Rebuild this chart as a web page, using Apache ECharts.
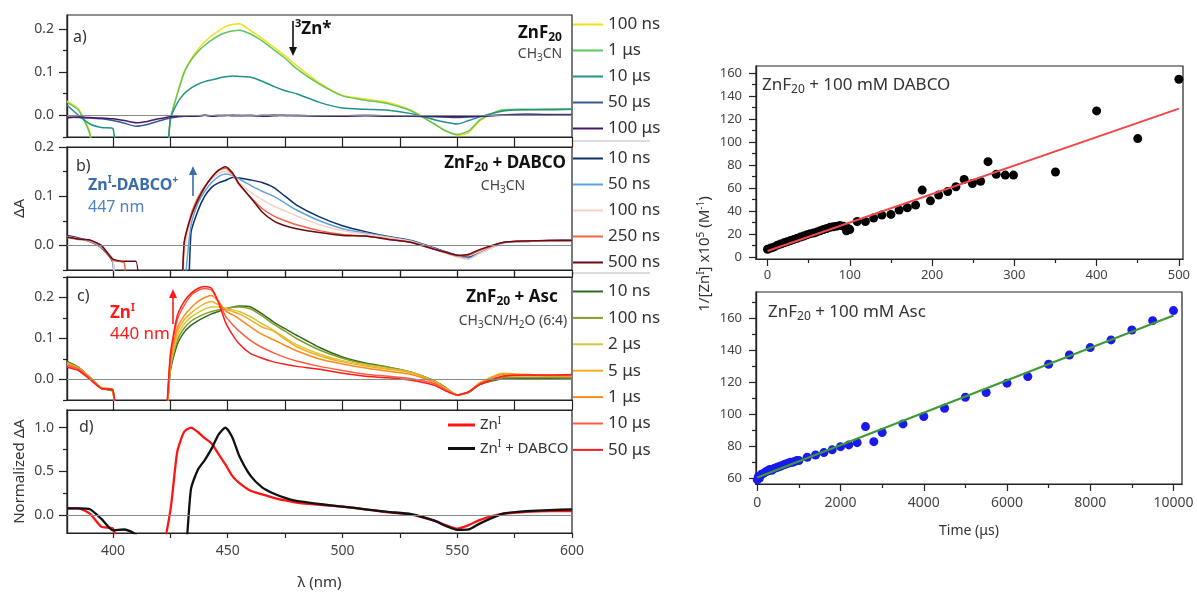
<!DOCTYPE html>
<html>
<head>
<meta charset="utf-8">
<script src="https://cdn.jsdelivr.net/npm/echarts@6/dist/echarts.min.js"></script>
<style>
  html, body { margin: 0; background: #fff; }
  #chart { width: 1197px; height: 593px; }
</style>
</head>
<body>
<div id="chart"></div>
<script>
// longueurs d'onde communes (nm) pour les spectres a) à d)
const wl = [380,385,390,395,400,405,410,415,420,425,428,431,434,437,440,443,446,449,452,455,460,465,470,475,480,490,500,510,520,530,540,545,550,555,560,570,580,590,600];

// a) ZnF20 / CH3CN
const a100ns = [0.033,0.015,-0.04,-0.3,-0.3,-0.3,-0.3,-0.3,-0.3,-0.01,0.05,0.1,0.13,0.152,0.17,0.184,0.195,0.205,0.21,0.212,0.196,0.178,0.158,0.138,0.115,0.075,0.046,0.038,0.03,0.012,-0.02,-0.035,-0.046,-0.04,-0.012,0.013,0.013,0.014,0.014];
const a1us = [0.03,0.012,-0.045,-0.3,-0.3,-0.3,-0.3,-0.3,-0.3,-0.01,0.048,0.098,0.127,0.147,0.162,0.174,0.184,0.191,0.195,0.197,0.188,0.172,0.152,0.132,0.108,0.072,0.045,0.035,0.027,0.01,-0.02,-0.036,-0.044,-0.036,-0.01,0.013,0.014,0.015,0.015];
const a10us = [0.024,0.0,-0.02,-0.028,-0.03,-0.3,-0.3,-0.3,-0.3,-0.01,0.028,0.05,0.063,0.072,0.078,0.082,0.086,0.089,0.091,0.09,0.088,0.079,0.067,0.057,0.05,0.03,0.017,0.014,0.012,0.004,-0.01,-0.016,-0.02,-0.012,-0.003,0.01,0.013,0.013,0.014];
const a50us = [-0.004,-0.005,-0.006,-0.008,-0.012,-0.018,-0.025,-0.021,-0.013,-0.006,-0.004,-0.002,-0.001,-0.002,0.0,-0.001,0.0,-0.001,0.001,0.0,-0.001,0.0,0.001,-0.001,0.0,-0.002,-0.001,0.0,-0.001,-0.002,-0.003,-0.004,-0.005,-0.004,-0.002,0.001,0.003,0.002,0.002];
const a100us = [-0.006,-0.004,-0.005,-0.006,-0.008,-0.012,-0.017,-0.014,-0.008,-0.003,-0.002,-0.001,-0.002,-0.001,0.0,-0.002,-0.001,0.0,-0.001,-0.001,0.0,-0.002,-0.001,0.0,-0.001,-0.001,-0.002,-0.001,-0.002,-0.001,-0.002,-0.003,-0.003,-0.002,-0.002,0.0,0.0,0.001,0.0];

// b) ZnF20 + DABCO
const b10ns = [0.02,0.015,0.008,-0.005,-0.035,-0.3,-0.3,-0.3,-0.3,-0.3,-0.3,-0.3,0.025,0.07,0.1,0.118,0.127,0.132,0.138,0.137,0.133,0.128,0.118,0.1,0.082,0.058,0.04,0.028,0.018,0.01,-0.005,-0.013,-0.02,-0.024,-0.015,0.006,0.008,0.01,0.011];
const b50ns = [0.018,0.014,0.008,-0.004,-0.032,-0.3,-0.3,-0.3,-0.3,-0.3,-0.3,-0.1,0.04,0.085,0.11,0.128,0.14,0.145,0.142,0.135,0.122,0.11,0.1,0.086,0.072,0.05,0.034,0.025,0.017,0.009,-0.006,-0.014,-0.022,-0.026,-0.015,0.005,0.008,0.009,0.01];
const b100ns = [0.018,0.013,0.009,-0.003,-0.03,-0.3,-0.3,-0.3,-0.3,-0.3,-0.3,-0.02,0.055,0.095,0.12,0.135,0.146,0.15,0.143,0.128,0.108,0.093,0.08,0.07,0.06,0.042,0.03,0.023,0.016,0.008,-0.007,-0.015,-0.024,-0.028,-0.016,0.005,0.008,0.009,0.01];
const b250ns = [0.016,0.012,0.01,-0.002,-0.03,-0.036,-0.3,-0.3,-0.3,-0.3,-0.3,0.0,0.062,0.097,0.12,0.138,0.152,0.157,0.145,0.123,0.098,0.075,0.06,0.05,0.042,0.03,0.022,0.019,0.013,0.006,-0.008,-0.015,-0.021,-0.02,-0.01,0.006,0.009,0.01,0.01];
const b500ns = [0.017,0.013,0.011,0.0,-0.028,-0.032,-0.032,-0.3,-0.3,-0.3,-0.3,0.005,0.058,0.092,0.118,0.138,0.153,0.16,0.148,0.125,0.097,0.068,0.05,0.04,0.034,0.026,0.02,0.019,0.012,0.006,-0.008,-0.014,-0.02,-0.018,-0.008,0.006,0.009,0.01,0.01];

// c) ZnF20 + Asc
const c10ns = [0.044,0.03,0.005,-0.022,-0.03,-0.3,-0.3,-0.3,-0.3,0.02,0.085,0.115,0.132,0.143,0.152,0.16,0.166,0.172,0.176,0.179,0.177,0.16,0.14,0.124,0.108,0.078,0.055,0.04,0.03,0.018,-0.003,-0.02,-0.038,-0.032,-0.012,0.002,0.003,0.003,0.002];
const c100ns = [0.042,0.029,0.006,-0.021,-0.028,-0.3,-0.3,-0.3,-0.3,0.025,0.095,0.125,0.142,0.152,0.16,0.166,0.17,0.173,0.176,0.177,0.172,0.155,0.135,0.118,0.1,0.072,0.052,0.038,0.03,0.018,-0.004,-0.021,-0.037,-0.031,-0.011,0.004,0.005,0.005,0.004];
const c2us = [0.04,0.028,0.006,-0.02,-0.026,-0.3,-0.3,-0.3,-0.3,0.03,0.105,0.135,0.152,0.163,0.172,0.177,0.177,0.173,0.17,0.166,0.153,0.136,0.12,0.102,0.085,0.062,0.046,0.036,0.027,0.017,-0.005,-0.022,-0.038,-0.03,-0.01,0.008,0.009,0.008,0.008];
const c5us = [0.04,0.028,0.005,-0.02,-0.025,-0.3,-0.3,-0.3,-0.3,0.035,0.115,0.145,0.162,0.175,0.185,0.19,0.182,0.172,0.166,0.16,0.145,0.128,0.118,0.098,0.08,0.058,0.043,0.033,0.025,0.016,-0.005,-0.022,-0.038,-0.03,-0.008,0.015,0.012,0.01,0.01];
const c1us = [0.038,0.027,0.004,-0.021,-0.025,-0.3,-0.3,-0.3,-0.3,0.04,0.125,0.155,0.175,0.19,0.2,0.205,0.19,0.168,0.158,0.148,0.128,0.11,0.097,0.083,0.07,0.05,0.038,0.028,0.02,0.012,-0.007,-0.024,-0.038,-0.03,-0.008,0.012,0.012,0.01,0.01];
const c10us = [0.034,0.025,0.003,-0.022,-0.026,-0.3,-0.3,-0.3,-0.3,0.05,0.145,0.18,0.205,0.217,0.222,0.218,0.19,0.155,0.135,0.118,0.095,0.078,0.065,0.054,0.045,0.032,0.022,0.013,0.008,0.002,-0.01,-0.026,-0.038,-0.03,-0.01,0.008,0.01,0.01,0.01];
const c50us = [0.03,0.022,0.0,-0.022,-0.025,-0.3,-0.3,-0.3,-0.3,0.06,0.155,0.19,0.21,0.222,0.227,0.222,0.188,0.14,0.11,0.087,0.063,0.052,0.043,0.037,0.032,0.025,0.015,0.008,0.004,-0.002,-0.014,-0.028,-0.038,-0.03,-0.012,0.008,0.011,0.011,0.012];

// d) spectres normalisés
const dZn = [0.08,0.08,0.02,-0.13,-0.15,-0.5,-0.5,-0.5,-0.5,0.05,0.72,0.95,1.0,0.95,0.88,0.82,0.7,0.58,0.45,0.37,0.28,0.24,0.2,0.17,0.145,0.12,0.1,0.07,0.035,0.01,-0.06,-0.11,-0.15,-0.11,-0.05,0.02,0.04,0.05,0.05];
const dZnDabco = [0.08,0.08,0.07,-0.04,-0.17,-0.16,-0.22,-0.5,-0.5,-0.5,-0.5,-0.5,0.3,0.52,0.63,0.76,0.92,1.0,0.89,0.68,0.45,0.32,0.25,0.2,0.165,0.13,0.1,0.07,0.04,0.015,-0.06,-0.12,-0.165,-0.16,-0.09,0.02,0.05,0.06,0.07];

// cinétiques 1/[Zn(I)]
const dabcoT = [0,4,8,12,16,20,24,28,32,36,40,44,48,52,56,60,64,68,72,76,80,84,88,92,96,98,100,109,119,129,139,150,160,170,180,188,198,208,219,229,239,249,259,268,278,289,299,350,400,450,500];
const dabcoY = [7,8,9,10.5,11.5,12.5,13.5,14.5,15.5,16.5,17.5,18.5,19.5,20.5,21,22,23,24,25,26,26.5,27,27.5,27,23,25,24,31,31,34,36.6,37.2,41,43,45.3,58.3,49,54,57,61.2,67.6,64,66,83,72,71.3,71.3,74,127,103,154.5];
const dabcoFitT = [0, 500];
const dabcoFitY = [5.5, 129];
const ascT = [0,25,50,100,150,200,250,300,350,400,450,500,550,600,650,700,750,800,850,900,950,1000,1200,1400,1600,1800,2000,2200,2400,2600,2800,3000,3500,4000,4500,5000,5500,6000,6500,7000,7500,8000,8500,9000,9500,10000];
const ascY = [59,61,60,62.5,63,64,64.5,65.5,65,66,66.5,67,67.5,68,68.5,69,69.5,70,70,70.5,71,71,73.1,74.5,76,77.7,79.7,80.8,82.2,92.2,82.8,88.5,93.9,98.5,103.7,110.5,113.5,119.3,123.4,131.1,136.9,141.5,146.3,152.5,158.3,164.6];
const ascFitT = [0, 10000];
const ascFitY = [60.5, 161.5];

// graduations
const lamTicks = [400,425,450,475,500,525,550,575,600];
const lamLabels = [400,450,500,550,600];
const dAMajor = [0, 0.1, 0.2];
const dAMinor = [-0.05, 0.05, 0.15, 0.25];
const normMajor = [0, 0.5, 1.0];
const normMinor = [0.25, 0.75];

const FONT = 'Noto Sans';
const chart = echarts.init(document.getElementById('chart'));

function zip(xs, ys) { return xs.map((x, i) => [x, ys[i]]); }

const grids = [
  {left: 67, top: 15, width: 505, height: 122},
  {left: 67, top: 147, width: 505, height: 123},
  {left: 67, top: 277, width: 505, height: 123},
  {left: 67, top: 410, width: 505, height: 123},
  {left: 756, top: 66, width: 427, height: 193},
  {left: 756, top: 292, width: 426, height: 192}
].map(g => Object.assign({show: true, borderColor: '#222', borderWidth: 1.2}, g));

function axis(gi, pos, min, max, ticks, len, labels, extra) {
  return Object.assign({
    type: 'value', gridIndex: gi, position: pos, min: min, max: max,
    axisLine: {show: true, onZero: false, lineStyle: {color: '#222', width: 1.2}},
    splitLine: {show: false},
    axisTick: {show: true, inside: false, length: len, customValues: ticks, lineStyle: {color: '#222', width: 1.2}},
    axisLabel: labels ? {show: true, customValues: labels, fontSize: 14, color: '#444', fontFamily: FONT, margin: 13,
                         formatter: v => String(v)}
                      : {show: false}
  }, extra || {});
}

const fmt1 = v => v.toFixed(1);

const xAxes = [
  axis(0, 'bottom', 380, 600, lamTicks, 5),
  axis(1, 'bottom', 380, 600, lamTicks, 5),
  axis(1, 'top', 380, 600, lamTicks, 5),
  axis(2, 'bottom', 380, 600, lamTicks, 5),
  axis(2, 'top', 380, 600, lamTicks, 5),
  axis(3, 'bottom', 380, 600, lamTicks, 5, lamLabels, {
    name: 'λ (nm)', nameLocation: 'middle', nameGap: 42,
    nameTextStyle: {fontSize: 15, color: '#333', fontFamily: FONT}
  }),
  axis(3, 'top', 380, 600, lamTicks, 5),
  axis(4, 'bottom', -14, 505, [0,100,200,300,400,500], 7, [0,100,200,300,400,500]),
  axis(4, 'bottom', -14, 505, [50,150,250,350,450], 4),
  axis(5, 'bottom', -31, 10205, [0,2000,4000,6000,8000,10000], 7, [0,2000,4000,6000,8000,10000], {
    name: 'Time (μs)', nameLocation: 'middle', nameGap: 40,
    nameTextStyle: {fontSize: 14, color: '#333', fontFamily: FONT}
  }),
  axis(5, 'bottom', -31, 10205, [1000,3000,5000,7000,9000], 4)
];
xAxes[5].axisLabel.margin = 11;
xAxes[7].axisLabel.fontSize = 13; xAxes[7].axisLabel.margin = 10;
xAxes[9].axisLabel.margin = 12;

const yAxes = [
  axis(0, 'left', -0.05, 0.232, dAMajor, 8, dAMajor),
  axis(0, 'left', -0.05, 0.232, dAMinor, 4),
  axis(1, 'left', -0.05, 0.2, dAMajor, 8, dAMajor, {
    name: 'ΔA', nameLocation: 'middle', nameGap: 40,
    nameTextStyle: {fontSize: 15, color: '#333', fontFamily: FONT}
  }),
  axis(1, 'left', -0.05, 0.2, dAMinor, 4),
  axis(2, 'left', -0.05, 0.25, dAMajor, 8, dAMajor),
  axis(2, 'left', -0.05, 0.25, dAMinor, 4),
  axis(3, 'left', -0.2, 1.2, normMajor, 8, normMajor, {
    name: 'Normalized ΔA', nameLocation: 'middle', nameGap: 40,
    nameTextStyle: {fontSize: 15, color: '#333', fontFamily: FONT}
  }),
  axis(3, 'left', -0.2, 1.2, normMinor, 4),
  axis(4, 'left', -1.5, 166, [0,20,40,60,80,100,120,140,160], 7, [0,20,40,60,80,100,120,140,160]),
  axis(4, 'left', -1.5, 166, [10,30,50,70,90,110,130,150], 4),
  axis(5, 'left', 56.4, 176.2, [60,80,100,120,140,160], 7, [60,80,100,120,140,160]),
  axis(5, 'left', 56.4, 176.2, [70,90,110,130,150,170], 4)
];
for (let i = 0; i < 8; i += 2) yAxes[i].axisLabel.formatter = fmt1;
yAxes[8].axisLabel.fontSize = 13; yAxes[8].axisLabel.margin = 14;
yAxes[10].axisLabel.fontSize = 13; yAxes[10].axisLabel.margin = 14;

const zeroLine = {
  silent: true, symbol: ['none', 'none'], animation: false,
  label: {show: false},
  lineStyle: {color: '#8a8a8a', width: 1, type: 'solid'},
  data: [{yAxis: 0}]
};

function spec(name, ys, color, xi, yi, width) {
  return {
    type: 'line', name: name, xAxisIndex: xi, yAxisIndex: yi,
    data: zip(wl, ys), showSymbol: false, symbol: 'none', smooth: 0.2,
    color: color, lineStyle: {color: color, width: width || 1.5}, clip: true
  };
}

const panelA = [
  spec('a|100 ns', a100ns, '#f2df1c', 0, 0),
  spec('a|1 μs', a1us, '#5ec75a', 0, 0),
  spec('a|10 μs', a10us, '#20928a', 0, 0),
  spec('a|50 μs', a50us, '#3b5896', 0, 0),
  spec('a|100 μs', a100us, '#46186a', 0, 0)
];
const panelB = [
  spec('b|10 ns', b10ns, '#0c2f6e', 1, 2),
  spec('b|50 ns', b50ns, '#5ea3dc', 1, 2),
  spec('b|100 ns', b100ns, '#f8cfc0', 1, 2),
  spec('b|250 ns', b250ns, '#f26444', 1, 2),
  spec('b|500 ns', b500ns, '#6a0a14', 1, 2)
];
const panelC = [
  spec('c|10 ns', c10ns, '#2e6a1e', 3, 4),
  spec('c|100 ns', c100ns, '#8b9b2a', 3, 4),
  spec('c|2 μs', c2us, '#d6c63e', 3, 4),
  spec('c|5 μs', c5us, '#f0b01e', 3, 4),
  spec('c|1 μs', c1us, '#ff8a1c', 3, 4),
  spec('c|10 μs', c10us, '#ff5c40', 3, 4),
  spec('c|50 μs', c50us, '#ff1c1c', 3, 4)
];
const panelD = [
  spec('Zn(I)', dZn, '#ff1414', 5, 6, 2.3),
  spec('Zn(I) + DABCO', dZnDabco, '#111111', 5, 6, 2.3)
];
[panelA, panelB, panelC, panelD].forEach(p => { p[0].markLine = zeroLine; });

const kinetics = [
  {type: 'scatter', name: 'dabco', xAxisIndex: 7, yAxisIndex: 8, data: zip(dabcoT, dabcoY),
   symbolSize: 9, itemStyle: {color: '#000', opacity: 1}},
  {type: 'line', name: 'dabcoFit', xAxisIndex: 7, yAxisIndex: 8, data: zip(dabcoFitT, dabcoFitY),
   showSymbol: false, symbol: 'none', lineStyle: {color: '#f04848', width: 2}},
  {type: 'scatter', name: 'asc', xAxisIndex: 9, yAxisIndex: 10, data: zip(ascT, ascY),
   symbolSize: 9, itemStyle: {color: '#1a1aee', opacity: 1}},
  {type: 'line', name: 'ascFit', xAxisIndex: 9, yAxisIndex: 10, data: zip(ascFitT, ascFitY),
   showSymbol: false, symbol: 'none', lineStyle: {color: '#3f9a35', width: 2.2}}
];

const legendBase = {
  orient: 'vertical', icon: 'rect', itemWidth: 30, itemHeight: 2, itemGap: 9,
  padding: 0, selectedMode: false,
  textStyle: {fontSize: 17, color: '#333', fontFamily: FONT, lineHeight: 16},
  formatter: n => n.split('|')[1]
};
const legends = [
  Object.assign({}, legendBase, {left: 573, top: 16, data: panelA.map(s => s.name)}),
  Object.assign({}, legendBase, {left: 573, top: 150, data: panelB.map(s => s.name)}),
  Object.assign({}, legendBase, {left: 573, top: 283, itemGap: 9.4, data: panelC.map(s => s.name)}),
  {
    orient: 'vertical', icon: 'rect', itemWidth: 27, itemHeight: 3, itemGap: 7,
    padding: 0, selectedMode: false, left: 448, top: 416,
    data: panelD.map(s => s.name),
    formatter: n => n === 'Zn(I)' ? '{t|Zn}{s|I}' : '{t|Zn}{s|I}{t| + DABCO}',
    textStyle: {
      fontSize: 15, color: '#333', fontFamily: FONT,
      rich: {
        t: {fontSize: 15, color: '#333', fontFamily: FONT, lineHeight: 18},
        s: {fontSize: 10, color: '#333', fontFamily: FONT, lineHeight: 10, verticalAlign: 'top'}
      }
    }
  }
];

// styles de texte enrichi pour les annotations (zrender : fill)
const R = {
  b: {fontFamily: FONT, fontSize: 17, fontWeight: 'bold', fill: '#111', lineHeight: 22},
  bs: {fontFamily: FONT, fontSize: 12, fontWeight: 'bold', fill: '#111', lineHeight: 12, verticalAlign: 'bottom'},
  sup: {fontFamily: FONT, fontSize: 11, fontWeight: 'bold', fill: '#111', lineHeight: 11, verticalAlign: 'top'},
  n: {fontFamily: FONT, fontSize: 14, fill: '#444', lineHeight: 18},
  ns: {fontFamily: FONT, fontSize: 10, fill: '#444', lineHeight: 9, verticalAlign: 'bottom'},
  bl: {fontFamily: FONT, fontSize: 16, fontWeight: 'bold', fill: '#3b6cab', lineHeight: 20},
  bls: {fontFamily: FONT, fontSize: 10, fontWeight: 'bold', fill: '#3b6cab', lineHeight: 10, verticalAlign: 'top'},
  bln: {fontFamily: FONT, fontSize: 16, fill: '#4a82c4', lineHeight: 20},
  r: {fontFamily: FONT, fontSize: 17, fontWeight: 'bold', fill: '#ff1a1a', lineHeight: 20},
  rs: {fontFamily: FONT, fontSize: 10, fontWeight: 'bold', fill: '#ff1a1a', lineHeight: 10, verticalAlign: 'top'},
  rn: {fontFamily: FONT, fontSize: 17, fill: '#ff1a1a', lineHeight: 20},
  t: {fontFamily: FONT, fontSize: 17, fill: '#333', lineHeight: 22},
  ts: {fontFamily: FONT, fontSize: 12, fill: '#333', lineHeight: 12, verticalAlign: 'bottom'},
  yt: {fontFamily: FONT, fontSize: 15, fill: '#333', lineHeight: 18},
  ys: {fontFamily: FONT, fontSize: 10, fill: '#333', lineHeight: 10, verticalAlign: 'top'}
};

function txt(x, y, text, align, extra) {
  return Object.assign({
    type: 'text', x: x, y: y, z: 20,
    style: {text: text, rich: R, align: align || 'left', verticalAlign: 'middle'}
  }, extra || {});
}
function arrow(x, yTail, yHead, color) {
  const dir = yHead > yTail ? 1 : -1;
  return [
    {type: 'line', z: 20, shape: {x1: x, y1: yTail, x2: x, y2: yHead - dir * 6}, style: {stroke: color, lineWidth: 1.6}},
    {type: 'polygon', z: 20, shape: {points: [[x - 4, yHead - dir * 9], [x + 4, yHead - dir * 9], [x, yHead]]}, style: {fill: color}}
  ];
}
function label(x, y, t) {
  return {type: 'text', x: x, y: y, z: 20, style: {text: t, fontSize: 16, fontFamily: FONT, fill: '#333', verticalAlign: 'middle'}};
}

const graphics = [
  label(73, 37, 'a)'), label(76, 166, 'b)'), label(77, 296, 'c)'), label(79, 427, 'd)'),
  txt(540, 33, '{b|ZnF}{bs|20}', 'center'),
  txt(540, 54, '{n|CH}{ns|3}{n|CN}', 'center'),
  txt(295, 29, '{sup|3}{b|Zn*}'),
  ...arrow(293, 21, 56, '#111'),
  txt(505, 163, '{b|ZnF}{bs|20}{b| + DABCO}', 'center'),
  txt(503, 186, '{n|CH}{ns|3}{n|CN}', 'center'),
  txt(88, 185, '{bl|Zn}{bls|I}{bl|-DABCO}{bls|+}'),
  txt(88, 207, '{bln|447 nm}'),
  ...arrow(193, 196, 166, '#3b6cab'),
  txt(512, 297, '{b|ZnF}{bs|20}{b| + Asc}', 'center'),
  txt(513, 321, '{n|CH}{ns|3}{n|CN/H}{ns|2}{n|O (6:4)}', 'center'),
  txt(110, 313, '{r|Zn}{rs|I}'),
  txt(110, 334, '{rn|440 nm}'),
  ...arrow(173, 324, 289, '#ff1a1a'),
  txt(762, 85, '{t|ZnF}{ts|20}{t| + 100 mM DABCO}'),
  txt(768, 312, '{t|ZnF}{ts|20}{t| + 100 mM Asc}'),
  txt(705, 254, '{yt|1/[Zn}{ys|I}{yt|] x10}{ys|5}{yt| (M}{ys|-1}{yt|)}', 'center', {rotation: Math.PI / 2}),
  {type: 'line', shape: {x1: 572, y1: 141, x2: 650, y2: 141}, style: {stroke: '#bbb', lineWidth: 1}},
  {type: 'line', shape: {x1: 572, y1: 273, x2: 650, y2: 273}, style: {stroke: '#bbb', lineWidth: 1}}
];

chart.setOption({
  animation: false,
  backgroundColor: '#fff',
  textStyle: {fontFamily: FONT},
  grid: grids,
  xAxis: xAxes,
  yAxis: yAxes,
  legend: legends,
  series: [...panelA, ...panelB, ...panelC, ...panelD, ...kinetics],
  graphic: graphics
});
</script>
</body>
</html>
